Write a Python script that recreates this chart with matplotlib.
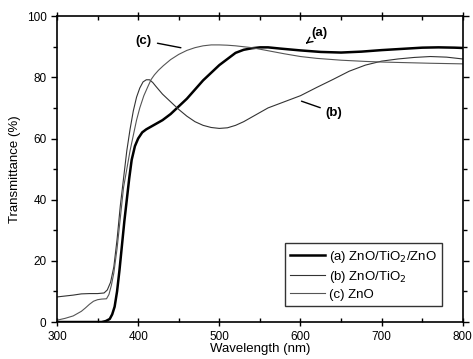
import matplotlib
matplotlib.use('Agg')
import matplotlib.pyplot as plt
from matplotlib.ticker import MultipleLocator

plt.rcParams['font.family'] = ['Liberation Sans', 'DejaVu Sans']

# (a) ZnO/TiO2/ZnO
wl_a = [300, 320, 340, 355, 360, 365, 368, 371, 374, 377, 380, 383, 386, 389, 392, 396,
        400, 405, 410, 420, 430, 440, 450, 460, 470, 480, 490, 500, 510, 520, 530, 540,
        550, 560, 575, 600, 625, 650, 675, 700, 725, 750, 770, 790, 800]
t_a = [0, 0, 0, 0, 0.3, 1, 2.5, 5, 10, 17, 25, 33, 40, 47, 53, 57.5,
       60, 62, 63, 64.5, 66, 68, 70.5, 73, 76, 79, 81.5, 84, 86, 88, 89, 89.5,
       89.8, 89.8, 89.4, 88.8, 88.3, 88.1, 88.4, 88.9, 89.3, 89.7, 89.8, 89.7, 89.6]

# (b) ZnO/TiO2
wl_b = [300, 310, 320, 330, 340, 350, 358, 362, 366, 370, 374, 378, 382, 386, 390, 394,
        398, 402, 406, 410, 414, 418, 422, 430, 440, 450, 460, 470, 480, 490, 500, 510,
        520, 530, 540, 550, 560, 575, 590, 600, 620, 640, 660, 680, 700, 720, 740, 760,
        780, 800]
t_b = [8.2, 8.5, 8.8, 9.2, 9.3, 9.3, 9.5, 10.5, 13, 18, 27, 38, 47, 56, 63, 69,
       73.5, 76.5, 78.5, 79.2, 79.2, 78.3, 77, 74.5, 72, 69.5, 67.3, 65.5, 64.3, 63.6, 63.3, 63.5,
       64.3, 65.5, 67, 68.5, 70, 71.5, 73, 74, 76.7, 79.3, 82, 84, 85.3, 86, 86.5, 86.8,
       86.6, 86]

# (c) ZnO
wl_c = [300, 310, 320, 330, 335, 340, 345, 350, 355, 361, 364, 367, 370, 374, 378, 382,
        386, 390, 394, 398, 402, 407, 412, 416, 420, 425, 431, 440, 450, 460, 470, 480,
        490, 500, 510, 520, 540, 560, 580, 600, 620, 650, 680, 700, 730, 760, 800]
t_c = [0.6, 1.2, 2, 3.5, 4.6, 5.8, 6.8, 7.3, 7.5, 7.6, 9, 12, 16, 24, 34, 44,
       50, 56, 61, 66, 70, 74, 77, 79.3, 80.8, 82.3, 83.8, 85.8, 87.5, 88.8, 89.7, 90.3,
       90.6, 90.6, 90.5, 90.3, 89.7, 88.7, 87.7, 86.8, 86.2, 85.6, 85.2, 85, 84.8, 84.6, 84.4]

labels = ['(a) ZnO/TiO$_2$/ZnO', '(b) ZnO/TiO$_2$', '(c) ZnO']

fig = plt.figure(figsize=(4.73, 3.59), dpi=100)
ax = fig.add_axes([0.1205, 0.103, 0.858, 0.852])

ax.plot(wl_a, t_a, color='black', lw=1.8, label=labels[0])
ax.plot(wl_b, t_b, color='#333333', lw=0.8, label=labels[1])
ax.plot(wl_c, t_c, color='#555555', lw=0.8, label=labels[2])

ax.set_xlim(300, 800)
ax.set_ylim(0, 100)
ax.xaxis.set_major_locator(MultipleLocator(100))
ax.xaxis.set_minor_locator(MultipleLocator(50))
ax.yaxis.set_major_locator(MultipleLocator(20))
ax.yaxis.set_minor_locator(MultipleLocator(10))
ax.tick_params(axis='both', which='major', labelsize=8.5, length=4, width=1)
ax.tick_params(axis='x', which='major', direction='inout', length=6)
ax.tick_params(axis='both', which='minor', direction='in', length=3, width=1)
ax.tick_params(axis='y', which='both', direction='out')
ax.tick_params(top=True, right=True, which='both')
for sp in ax.spines.values():
    sp.set_linewidth(1.2)

ax.set_xlabel('Wavelength (nm)', fontsize=9.5, labelpad=0)
ax.set_ylabel('Transmittance (%)', fontsize=9.5, labelpad=4)

arrow = dict(arrowstyle='-', color='black', lw=1)
ax.annotate('(a)', xy=(604, 90.5), xytext=(614, 94.5), fontsize=9.5, weight='bold',
            va='center', ha='left', arrowprops=dict(arrowstyle='->', color='black', lw=1))
ax.annotate('(b)', xy=(598, 72.5), xytext=(631, 68.5), fontsize=9.5, weight='bold',
            va='center', ha='left', arrowprops=arrow)
ax.annotate('(c)', xy=(456, 89.5), xytext=(417, 92), fontsize=9.5, weight='bold',
            va='center', ha='right', arrowprops=arrow)

leg = ax.legend(loc='lower right', bbox_to_anchor=(0.948, 0.052), borderaxespad=0,
                fontsize=9.5, frameon=True, fancybox=False, edgecolor='black',
                handlelength=2.6, borderpad=0.4, labelspacing=0.3, handletextpad=0.3)
leg.get_frame().set_linewidth(1)

fig.savefig('out.png', dpi=100)
